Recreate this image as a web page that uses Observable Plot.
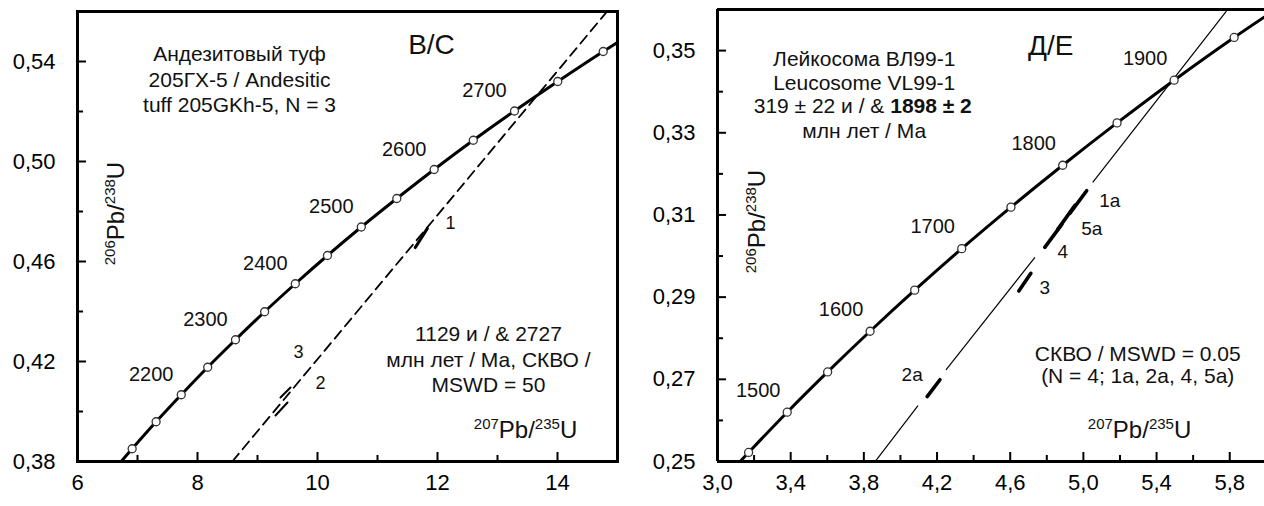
<!DOCTYPE html>
<html>
<head>
<meta charset="utf-8">
<script src="https://cdn.jsdelivr.net/npm/d3@7"></script>
<script src="https://cdn.jsdelivr.net/npm/@observablehq/plot@0.6"></script>
<style>
  html, body { margin: 0; padding: 0; background: #fff; }
  #wrap { display: flex; width: 1264px; height: 506px; overflow: hidden; }
  #wrap svg { flex: none; }
</style>
</head>
<body>
<div id="wrap"></div>
<script>
// ================= Panel В/С (left) =================
const concAgesL = [2050, 2100, 2150, 2200, 2250, 2300, 2350, 2400, 2450, 2500, 2550, 2600, 2650, 2700, 2750, 2800, 2850];
const concXL = [6.530, 6.911, 7.310, 7.729, 8.170, 8.633, 9.119, 9.630, 10.166, 10.730, 11.322, 11.944, 12.597, 13.283, 14.004, 14.762, 15.557];
const concYL = [0.3744, 0.3851, 0.3959, 0.4067, 0.4177, 0.4287, 0.4399, 0.4511, 0.4624, 0.4738, 0.4852, 0.4968, 0.5085, 0.5202, 0.5320, 0.5440, 0.5560];
const ageLabelsL = [2200, 2300, 2400, 2500, 2600, 2700];
const discXL = [8.58, 14.84];
const discYL = [0.38, 0.5604];
const ellipsesL = [[11.63, 0.4656, 11.83, 0.4732], [9.383, 0.4056, 9.55, 0.4096], [9.30, 0.3984, 9.50, 0.4036]];
const ellNamesL = ["1", "3", "2"];
const ellLabelXL = [12.217, 9.683, 10.05];
const ellLabelYL = [0.4752, 0.4236, 0.4112];
const xMajorL = [6, 8, 10, 12, 14];
const xMinorL = [7, 9, 11, 13];
const yMajorL = [0.38, 0.42, 0.46, 0.50, 0.54];
const yMinorL = [0.40, 0.44, 0.48, 0.52];
const panelL = "В/С";
const noteL1 = ["Андезитовый туф", "205ГХ-5 / Andesitic", "tuff 205GKh-5, N = 3"];
const noteL2 = ["1129 и / & 2727", "млн лет / Ма, СКВО /", "MSWD = 50"];

// ================= Panel Д/Е (right) =================
const concAgesR = [1400, 1450, 1500, 1550, 1600, 1650, 1700, 1750, 1800, 1850, 1900, 1950, 2000];
const concXR = [2.970, 3.170, 3.381, 3.602, 3.834, 4.078, 4.335, 4.604, 4.887, 5.184, 5.496, 5.824, 6.179];
const concYR = [0.2426, 0.2522, 0.2620, 0.2718, 0.2817, 0.2917, 0.3018, 0.3119, 0.3221, 0.3324, 0.3428, 0.3532, 0.3638];
const ageLabelsR = [1500, 1600, 1700, 1800, 1900];
const discSegR = [[5.782, 0.3596, 5.051, 0.3179], [4.735, 0.2997, 4.249, 0.2723], [4.096, 0.2636, 3.862, 0.25]];
const ellipsesR = [[5.018, 0.3159, 4.926, 0.3104], [4.953, 0.3123, 4.860, 0.3065], [4.882, 0.3077, 4.789, 0.3021], [4.713, 0.2958, 4.647, 0.2915], [4.216, 0.2699, 4.146, 0.2658]];
const ellNamesR = ["1a", "5a", "4", "3", "2a"];
const ellLabelXR = [5.144, 5.046, 4.887, 4.789, 4.064];
const ellLabelYR = [0.3135, 0.3067, 0.3009, 0.2922, 0.2711];
const xMajorR = [3.0, 3.4, 3.8, 4.2, 4.6, 5.0, 5.4, 5.8];
const xMinorR = [3.2, 3.6, 4.0, 4.4, 4.8, 5.2, 5.6];
const yMajorR = [0.25, 0.27, 0.29, 0.31, 0.33, 0.35];
const yMinorR = [0.26, 0.28, 0.30, 0.32, 0.34];
const panelR = "Д/Е";
const noteR1 = ["Лейкосома ВЛ99-1", "Leucosome VL99-1", "", "млн лет / Ма"];
const noteR1a = "319 ± 22 и / & ";
const noteR1b = "1898 ± 2";
const noteR2 = ["СКВО / MSWD = 0.05", "(N = 4; 1a, 2a, 4, 5a)"];

const axisXLabel = "207Pb/235U";
const axisYLabel = "206Pb/238U";

// ================= helpers =================
const FONT = "'Liberation Sans', Arial, Helvetica, sans-serif";
const comma = (d, n) => d.toFixed(n).replace(".", ",");
const H = 506, MT_L = 11, MT_R = 9, MB = 45;
const INK = "#111";

function tickMarks(xMaj, xMin, yMaj, yMin, innerW, innerH) {
  const st = {stroke: "#000", strokeWidth: 2};
  return [
    Plot.tickX(xMaj, {x: d => d, insetTop: innerH - 9, ...st}),
    Plot.tickX(xMin, {x: d => d, insetTop: innerH - 6, ...st}),
    Plot.tickY(yMaj, {y: d => d, insetRight: innerW - 9, ...st}),
    Plot.tickY(yMin, {y: d => d, insetRight: innerW - 6, ...st})
  ];
}

function supify(svg) {
  svg.querySelectorAll("text").forEach(t => {
    const m = /^(\d+)Pb\/(\d+)U$/.exec(t.textContent);
    if (!m) return;
    t.textContent = "";
    const parts = [[m[1], 15, -9], ["Pb", 24, 9], ["/", 24, 0], [m[2], 15, -9], ["U", 24, 9]];
    for (const [s, fs, dy] of parts) {
      const ts = document.createElementNS("http://www.w3.org/2000/svg", "tspan");
      ts.setAttribute("font-size", fs);
      if (dy) ts.setAttribute("dy", dy);
      ts.textContent = s;
      t.appendChild(ts);
    }
  });
}

// ================= left plot =================
const WL = 620, MLL = 77, MRL = 3;
const left = Plot.plot({
  width: WL, height: H, marginLeft: MLL, marginRight: MRL, marginTop: MT_L, marginBottom: MB,
  style: {fontFamily: FONT, background: "#fff", color: "#000", overflow: "hidden"},
  x: {domain: [6, 15]},
  y: {domain: [0.38, 0.56]},
  marks: [
    Plot.line(discXL, {x: d => d, y: (d, i) => discYL[i], stroke: "#000", strokeWidth: 1.8, strokeDasharray: "10,6", clip: true}),
    Plot.link(ellipsesL, {x1: d => d[0], y1: d => d[1], x2: d => d[2], y2: d => d[3], stroke: "#000", strokeWidth: (d, i) => i === 0 ? 3.2 : 2, strokeLinecap: "round"}),
    Plot.line(concAgesL, {x: (d, i) => concXL[i], y: (d, i) => concYL[i], curve: "catmull-rom", stroke: "#000", strokeWidth: 3, clip: true}),
    Plot.dot(concAgesL, {x: (d, i) => concXL[i], y: (d, i) => concYL[i], r: 4, fill: "#fff", stroke: "#333", strokeWidth: 1.3, clip: true}),
    Plot.text(ageLabelsL, {x: a => concXL[concAgesL.indexOf(a)], y: a => concYL[concAgesL.indexOf(a)], text: a => String(a), dx: -30, dy: -20, fontSize: 20, fill: INK}),
    Plot.text(ellNamesL, {x: (d, i) => ellLabelXL[i], y: (d, i) => ellLabelYL[i], text: d => d, fontSize: 18, fill: INK}),
    Plot.text([noteL1.join("\n")], {x: () => 8.70, y: () => 0.5332, text: d => d, fontSize: 21, lineHeight: 1.2, fill: INK}),
    Plot.text([noteL2.join("\n")], {x: () => 12.85, y: () => 0.4212, text: d => d, fontSize: 21, lineHeight: 1.21, fill: INK}),
    Plot.text([panelL], {x: () => 11.9, y: () => 0.5464, text: d => d, fontSize: 28, fill: INK}),
    Plot.text([axisXLabel], {x: () => 13.467, y: () => 0.3924, text: d => d, fontSize: 24, fill: INK}),
    Plot.text([axisYLabel], {x: () => 6.65, y: () => 0.4792, text: d => d, fontSize: 24, rotate: -90, fill: INK}),
    Plot.frame({stroke: "#000", strokeWidth: 3}),
    ...tickMarks(xMajorL, xMinorL, yMajorL, yMinorL, WL - MLL - MRL, H - MT_L - MB),
    Plot.axisX({ticks: xMajorL, tickSize: 0, tickPadding: 13, fontSize: 22, label: null, tickFormat: d => String(d)}),
    Plot.axisY({ticks: yMajorL, tickSize: 0, tickPadding: 22, fontSize: 22, label: null, tickFormat: d => comma(d, 2)})
  ]
});

// ================= right plot =================
const WR = 644, MLR = 97, MRR = 0;
const right = Plot.plot({
  width: WR, height: H, marginLeft: MLR, marginRight: MRR, marginTop: MT_R, marginBottom: MB,
  style: {fontFamily: FONT, background: "#fff", color: "#000", overflow: "hidden"},
  x: {domain: [3.0, 5.99]},
  y: {domain: [0.25, 0.36]},
  marks: [
    Plot.link(discSegR, {x1: d => d[0], y1: d => d[1], x2: d => d[2], y2: d => d[3], stroke: "#000", strokeWidth: 1.2, clip: true}),
    Plot.link(ellipsesR, {x1: d => d[0], y1: d => d[1], x2: d => d[2], y2: d => d[3], stroke: "#000", strokeWidth: 3.6, strokeLinecap: "round"}),
    Plot.line(concAgesR, {x: (d, i) => concXR[i], y: (d, i) => concYR[i], curve: "catmull-rom", stroke: "#000", strokeWidth: 3, clip: true}),
    Plot.dot(concAgesR, {x: (d, i) => concXR[i], y: (d, i) => concYR[i], r: 4, fill: "#fff", stroke: "#333", strokeWidth: 1.3, clip: true}),
    Plot.text(ageLabelsR, {x: a => concXR[concAgesR.indexOf(a)], y: a => concYR[concAgesR.indexOf(a)], text: a => String(a), dx: -29, dy: -22, fontSize: 20, fill: INK}),
    Plot.text(ellNamesR, {x: (d, i) => ellLabelXR[i], y: (d, i) => ellLabelYR[i], text: d => d, fontSize: 19, fill: INK}),
    Plot.text([noteR1.join("\n")], {x: () => 3.802, y: () => 0.3393, text: d => d, fontSize: 21, lineHeight: 1.15, fill: INK}),
    Plot.text([noteR1a], {x: () => 3.944, y: () => 0.3364, text: d => d, fontSize: 21, textAnchor: "end", fill: INK}),
    Plot.text([noteR1b], {x: () => 3.944, y: () => 0.3364, text: d => d, fontSize: 21, fontWeight: "bold", textAnchor: "start", fill: INK}),
    Plot.text([noteR2.join("\n")], {x: () => 5.297, y: () => 0.2736, text: d => d, fontSize: 21, lineHeight: 1.05, fill: INK}),
    Plot.text([panelR], {x: () => 4.822, y: () => 0.3512, text: d => d, fontSize: 28, fill: INK}),
    Plot.text([axisXLabel], {x: () => 5.307, y: () => 0.2575, text: d => d, fontSize: 24, fill: INK}),
    Plot.text([axisYLabel], {x: () => 3.218, y: () => 0.3084, text: d => d, fontSize: 24, rotate: -90, fill: INK}),
    Plot.ruleY([0.36], {stroke: "#000", strokeWidth: 3}),
    Plot.ruleY([0.25], {stroke: "#000", strokeWidth: 3}),
    Plot.ruleX([3.0], {stroke: "#000", strokeWidth: 3}),
    ...tickMarks(xMajorR, xMinorR, yMajorR, yMinorR, WR - MLR - MRR, H - MT_R - MB),
    Plot.axisX({ticks: xMajorR, tickSize: 0, tickPadding: 13, fontSize: 22, label: null, tickFormat: d => comma(d, 1)}),
    Plot.axisY({ticks: yMajorR, tickSize: 0, tickPadding: 22, fontSize: 22, label: null, tickFormat: d => comma(d, 2)})
  ]
});

supify(left);
supify(right);
const wrap = document.getElementById("wrap");
wrap.appendChild(left);
wrap.appendChild(right);
</script>
</body>
</html>
